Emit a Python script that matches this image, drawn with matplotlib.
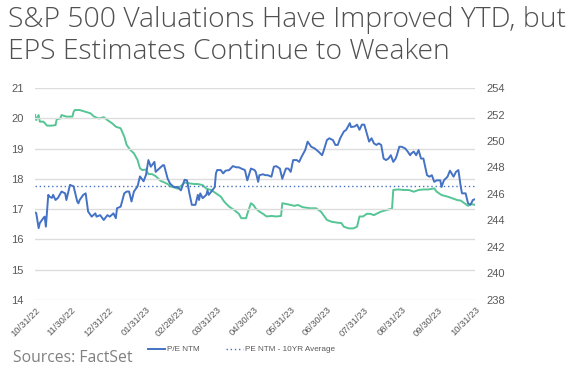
import matplotlib
matplotlib.use('Agg')
import matplotlib.pyplot as plt
import matplotlib.dates as mdates
import pandas as pd

# Wartości (dni od 10/31/22)
pe_days = [0, 1, 3, 4, 7, 8, 9, 11, 12, 14, 15, 17, 19, 22, 25, 26, 29, 32, 35, 36, 37, 40, 42, 44,
           47, 50, 51, 54, 57, 60, 62, 65, 67, 68, 71, 74, 76, 78, 80, 82, 85, 87, 90, 92, 94, 96,
           99, 100, 103, 106, 107, 110, 112, 115, 118, 121, 124, 126, 128, 130, 133, 135, 136, 137,
           139, 142, 143, 144, 147, 149, 150, 151, 154, 156, 158, 161, 164, 167, 169, 171, 174, 176,
           179, 182, 183, 185, 186, 189, 191, 193, 196, 198, 200, 203, 205, 208, 210, 212, 214, 217,
           219, 221, 224, 226, 229, 232, 235, 238, 239, 242, 244, 247, 249, 251, 253, 256, 258, 261,
           262, 265, 267, 269, 271, 273, 275, 277, 279, 281, 283, 285, 287, 289, 291, 293, 295, 297,
           299, 300, 302, 304, 307, 309, 311, 312, 314, 316, 318, 320, 322, 325, 327, 329, 331, 333,
           336, 337, 339, 342, 344, 347, 349, 351, 353, 354, 357, 359, 361, 363, 365]
pe_ntm = [16.89, 16.87, 16.37, 16.54, 16.71, 16.75, 16.42, 17.47, 17.41, 17.37, 17.47, 17.30, 17.37,
          17.58, 17.52, 17.30, 17.80, 17.75, 17.25, 17.19, 17.30, 17.47, 17.52, 16.92, 16.75, 16.86,
          16.75, 16.80, 16.64, 16.80, 16.75, 16.86, 16.70, 17.03, 17.08, 17.52, 17.58, 17.58, 17.25,
          17.58, 17.75, 18.08, 17.92, 18.13, 18.62, 18.40, 18.56, 18.23, 18.34, 18.45, 18.45, 18.00,
          17.84, 17.73, 17.73, 17.62, 17.97, 17.95, 17.52, 17.14, 17.14, 17.47, 17.30, 17.52, 17.36,
          17.47, 17.62, 17.47, 17.62, 17.73, 18.18, 18.29, 18.29, 18.18, 18.27, 18.29, 18.42, 18.38,
          18.38, 18.34, 18.29, 17.95, 18.34, 18.29, 18.23, 17.90, 18.12, 18.15, 18.12, 18.12, 18.07,
          18.40, 18.42, 18.34, 18.00, 18.34, 18.34, 18.23, 18.62, 18.62, 18.56, 18.73, 18.95, 19.23,
          19.06, 19.00, 18.90, 18.78, 18.89, 19.28, 19.34, 19.28, 19.12, 19.12, 19.34, 19.56, 19.62,
          19.84, 19.71, 19.73, 19.79, 19.62, 19.79, 19.79, 19.51, 19.23, 19.34, 19.17, 19.12, 19.17,
          19.12, 18.67, 18.62, 18.67, 18.78, 18.56, 18.67, 18.78, 19.06, 19.06, 19.00, 18.90, 18.78,
          18.84, 18.90, 18.78, 18.95, 18.67, 18.67, 18.12, 18.07, 18.12, 17.90, 17.95, 17.95, 17.73,
          17.95, 18.07, 18.27, 18.07, 18.23, 18.29, 17.73, 17.52, 17.52, 17.19, 17.14, 17.30, 17.33]
pe_avg = 17.77

eps_days = [0, 1, 3, 4, 7, 10, 14, 17, 18, 21, 22, 26, 31, 32, 33, 37, 42, 46, 49, 53, 57, 60, 64,
            67, 71, 74, 76, 79, 82, 85, 87, 89, 92, 94, 97, 100, 104, 107, 110, 112, 115, 118, 121,
            124, 128, 132, 135, 139, 142, 146, 150, 154, 157, 161, 165, 169, 171, 175, 176, 179, 181,
            183, 186, 189, 192, 196, 200, 204, 205, 208, 212, 215, 218, 222, 228, 233, 237, 242, 246,
            250, 254, 256, 260, 264, 267, 269, 272, 275, 278, 281, 283, 287, 292, 296, 297, 301, 306,
            310, 314, 318, 322, 326, 331, 333, 337, 342, 346, 350, 353, 356, 359, 361, 365]
eps_ntm = [251.96, 251.58, 251.96, 251.46, 251.46, 251.16, 251.16, 251.20, 251.64, 251.70, 251.96,
           251.84, 251.84, 252.20, 252.34, 252.34, 252.20, 252.09, 251.84, 251.70, 251.80, 251.58,
           251.33, 251.08, 250.96, 250.33, 249.70, 249.32, 249.07, 248.57, 247.94, 247.80, 247.85,
           247.50, 247.50, 247.35, 247.00, 246.88, 246.75, 246.58, 246.50, 246.40, 246.60, 246.87,
           246.80, 246.75, 246.75, 246.67, 246.40, 246.30, 246.05, 245.80, 245.40, 245.04, 244.80,
           244.50, 244.17, 244.17, 244.50, 245.30, 245.17, 244.90, 244.67, 244.50, 244.30, 244.34,
           244.30, 244.34, 245.30, 245.25, 245.17, 245.10, 245.17, 245.00, 244.92, 244.92, 244.67,
           244.04, 243.90, 243.84, 243.80, 243.53, 243.40, 243.40, 243.53, 244.30, 244.30, 244.50,
           244.50, 244.40, 244.50, 244.67, 244.80, 244.90, 246.30, 246.34, 246.30, 246.30, 246.17,
           246.30, 246.34, 246.34, 246.42, 246.17, 245.92, 245.80, 245.67, 245.54, 245.50, 245.30,
           245.10, 245.25, 245.17]

start = pd.Timestamp('2022-10-31')
pe_dates = start + pd.to_timedelta(pe_days, unit='D')
eps_dates = start + pd.to_timedelta(eps_days, unit='D')
tick_dates = pd.date_range('2022-10-31', '2023-10-31', freq='ME')

blue = '#4472C4'
green = '#55C595'
grey = '#595959'
plt.rcParams['font.family'] = ['Liberation Sans', 'DejaVu Sans']

fig = plt.figure(figsize=(5.74, 3.73), dpi=100)
ax = fig.add_axes([0.061, 0.196, 0.767, 0.568])
ax2 = ax.twinx()

ax.plot(pe_dates, pe_ntm, color=blue, lw=1.4, label='P/E NTM', zorder=3)
ax.axhline(pe_avg, color=blue, lw=1.0, ls=(0, (1, 2)), label='PE NTM - 10YR Average', zorder=3)
ax2.plot(eps_dates, eps_ntm, color=green, lw=1.4, zorder=2)

ax.set_ylim(14, 21)
ax.set_yticks(range(14, 22))
ax2.set_ylim(238, 254)
ax2.set_yticks(range(238, 255, 2))
ax.set_xlim(start, pd.Timestamp('2023-10-31'))
ax.set_xticks(tick_dates)
ax.xaxis.set_major_formatter(mdates.DateFormatter('%m/%d/%y'))
plt.setp(ax.get_xticklabels(), rotation=45, ha='right', rotation_mode='anchor')

ax.grid(axis='y', color='#DDDDDD', lw=1)
ax.set_axisbelow(True)
for a in (ax, ax2):
    for s in a.spines.values():
        s.set_visible(False)
    a.tick_params(length=0, colors=grey, labelsize=8)
ax.tick_params(axis='x', labelsize=6.8, pad=4)
ax.tick_params(axis='y', pad=8)
ax2.tick_params(axis='y', pad=8)
ax.set_zorder(ax2.get_zorder() + 1)
ax.patch.set_visible(False)

fig.legend(loc='center left', bbox_to_anchor=(0.245, 0.063), ncol=2, frameon=False,
           fontsize=5.9, labelcolor=grey, handlelength=2.1, handletextpad=0.2, columnspacing=3.2)

fig.text(0.014, 0.985, 'S&P 500 Valuations Have Improved YTD, but\nEPS Estimates Continue to Weaken',
         ha='left', va='top', fontsize=20.3, color='#505050', family='Open Sans',
         fontweight='light', linespacing=1.2)
fig.text(0.022, 0.02, 'Sources: FactSet', ha='left', va='bottom', fontsize=11.3,
         color='#808080', family='Open Sans')

fig.savefig('out.png', dpi=100)
